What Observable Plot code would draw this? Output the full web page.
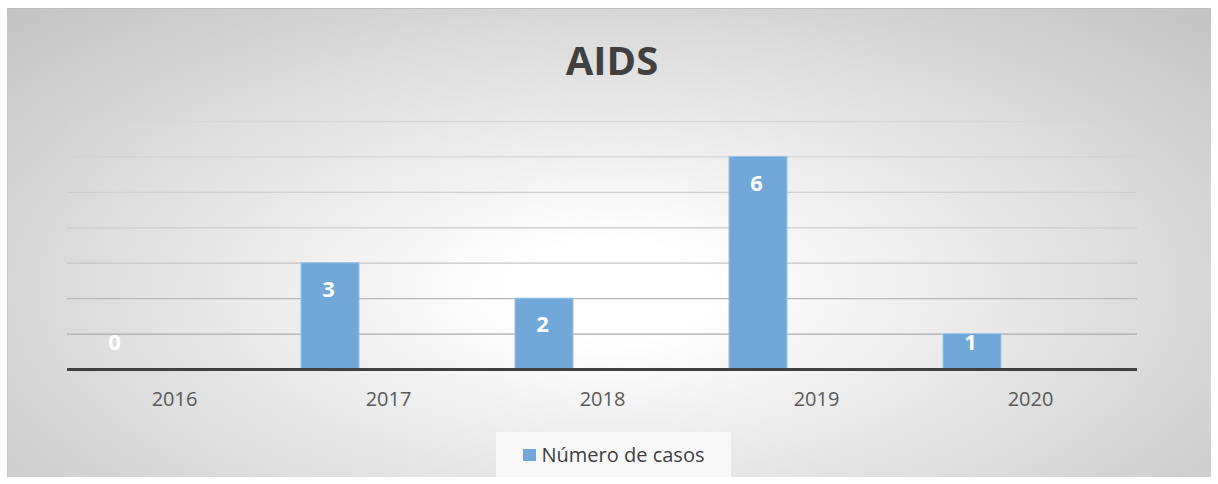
<!DOCTYPE html>
<html>
<head>
<meta charset="utf-8">
<script src="https://cdn.jsdelivr.net/npm/d3@7"></script>
<script src="https://cdn.jsdelivr.net/npm/@observablehq/plot@0.6"></script>
<style>
  html, body { margin: 0; padding: 0; background: #fff; }
  body { width: 1218px; height: 484px; position: relative; overflow: hidden; font-family: "Open Sans", sans-serif; }
  #frame {
    position: absolute; left: 7px; top: 8px; width: 1203px; height: 468px;
    border-top: 1px solid #bdbdbd; border-left: 1px solid #c4c4c4;
    background: radial-gradient(ellipse farthest-corner at 50% 60%, #ffffff 0%, #ffffff 12%, #c3c3c3 100%);
  }
  #title {
    position: absolute; left: 0; top: 32px; width: 1224px; text-align: center;
    font: bold 40px "Open Sans", sans-serif; color: #404040; line-height: 56px;
  }
  #chart { position: absolute; left: 0; top: 90px; }
  #chart svg { background: transparent; overflow: visible; }
  #legend {
    position: absolute; left: 496px; top: 432px; width: 235px; height: 45px;
    background: #f8f8f8; display: flex; align-items: center; justify-content: center;
    font: 20px "Open Sans", sans-serif; color: #404040;
  }
  #legend .sw { width: 13px; height: 12px; background: #72a7da; margin-right: 6px; margin-top: 1px; }
</style>
</head>
<body>
<div id="frame"></div>
<div id="title">AIDS</div>
<div id="chart"></div>
<div id="legend"><span class="sw"></span><span>Número de casos</span></div>
<script>
const years = ["2016", "2017", "2018", "2019", "2020"];
const casos = [0, 3, 2, 6, 1];
const gridValues = [1, 2, 3, 4, 5, 6, 7];
const seriesName = "Número de casos";

const data = years.map((y, i) => ({year: y, value: casos[i]}));

const chart = Plot.plot({
  width: 1218,
  height: 320,
  marginLeft: 67,
  marginRight: 81,
  marginTop: 31,
  marginBottom: 41,
  style: {background: "transparent", fontFamily: "Open Sans, sans-serif", fontSize: "20px"},
  x: {domain: years, padding: 0, label: null},
  y: {domain: [0, 7], axis: null},
  marks: [
    Plot.ruleY(gridValues, {stroke: "url(#gridGrad)", strokeWidth: 1.3}),
    Plot.barY(data, {x: "year", y: "value", fill: "#72a7da", stroke: "#9cc2e8", strokeWidth: 1, insetLeft: 20, insetRight: 136}),
    Plot.ruleY([0], {stroke: "#404040", strokeWidth: 3}),
    Plot.text(data, {
      x: "year", y: d => Math.max(d.value - 0.75, 0.75), text: d => String(d.value),
      fill: "white", fontWeight: "bold", fontSize: 22, dx: -60,
      fontFamily: "Open Sans, sans-serif"
    }),
    Plot.axisX({tickSize: 0, tickPadding: 22, fontSize: 20, color: "#595959", label: null, fontFamily: "Open Sans, sans-serif"})
  ]
});

const svg = d3.select(chart);
const defs = svg.insert("defs", ":first-child");
const g = defs.append("linearGradient").attr("id", "gridGrad")
  .attr("gradientUnits", "userSpaceOnUse")
  .attr("x1", 0).attr("y1", 31).attr("x2", 0).attr("y2", 279);
g.append("stop").attr("offset", "0%").attr("stop-color", "#d6d6d6");
g.append("stop").attr("offset", "50%").attr("stop-color", "#cacaca");
g.append("stop").attr("offset", "100%").attr("stop-color", "#a0a0a0");

document.getElementById("chart").appendChild(chart);
</script>
</body>
</html>
